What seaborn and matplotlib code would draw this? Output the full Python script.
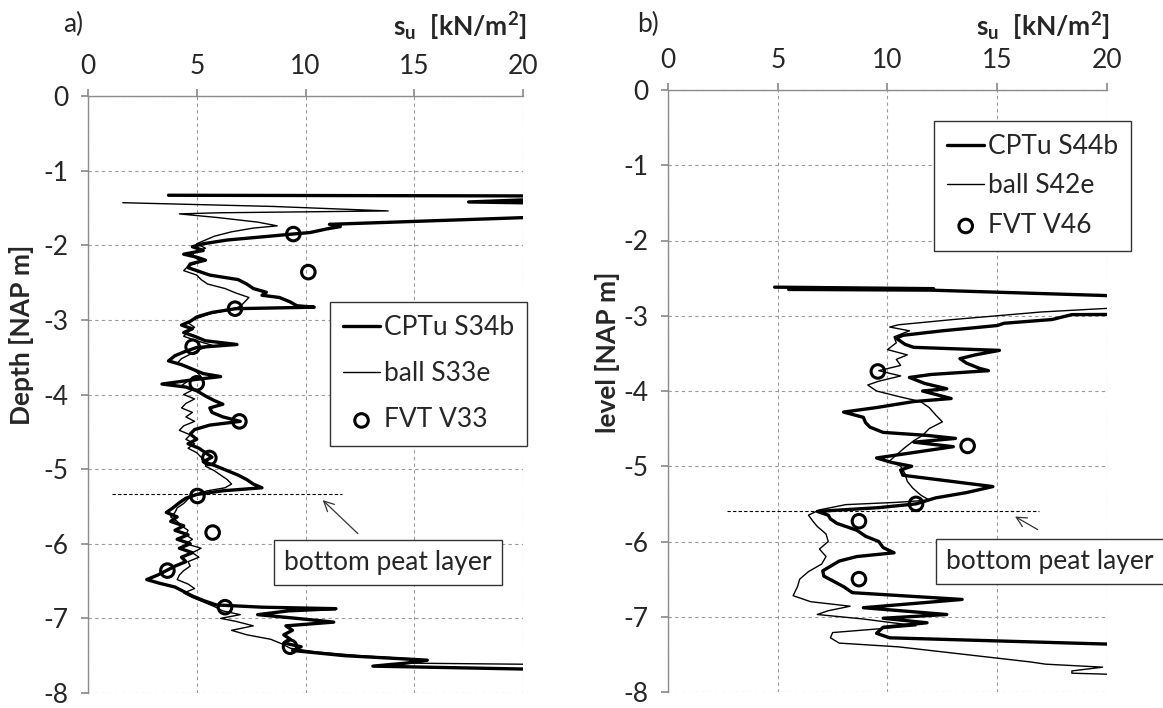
import matplotlib
matplotlib.use("Agg")
import matplotlib.pyplot as plt
import seaborn as sns

# ---------------- data: panel a ----------------
a_cptu_depth = [-1.33, -1.34, -1.37, -1.42, -1.44, -1.61, -1.63, -1.72, -1.75, -1.78, -1.83, -1.85, -1.88,
                -1.93, -1.98, -2.02, -2.07, -2.12, -2.16, -2.20, -2.25, -2.30, -2.34, -2.40, -2.46, -2.52,
                -2.58, -2.63, -2.67, -2.70, -2.76, -2.81, -2.83, -2.85, -2.90, -2.96, -3.02, -3.07, -3.12,
                -3.17, -3.22, -3.28, -3.33, -3.37, -3.42, -3.48, -3.55, -3.60, -3.66, -3.72, -3.76, -3.80,
                -3.86, -3.90, -3.95, -4.02, -4.08, -4.13, -4.18, -4.24, -4.30, -4.36, -4.41, -4.47, -4.53,
                -4.60, -4.66, -4.72, -4.78, -4.84, -4.90, -4.96, -5.02, -5.08, -5.14, -5.20, -5.25, -5.29,
                -5.34, -5.39, -5.45, -5.52, -5.58, -5.64, -5.70, -5.76, -5.82, -5.88, -5.94, -6.00, -6.06,
                -6.12, -6.18, -6.24, -6.30, -6.36, -6.42, -6.48, -6.53, -6.58, -6.64, -6.70, -6.76, -6.82,
                -6.85, -6.87, -6.90, -6.95, -7.00, -7.05, -7.10, -7.16, -7.22, -7.28, -7.33, -7.38, -7.43,
                -7.50, -7.56, -7.60, -7.64, -7.69]
a_cptu_su = [3.7, 22.0, 22.0, 17.5, 22.0, 22.0, 20.0, 11.1, 11.6, 11.0, 10.2, 9.4, 8.3,
             6.4, 5.3, 4.8, 5.3, 4.4, 5.0, 5.4, 4.7, 4.6, 5.0, 5.6, 6.9, 7.3,
             7.6, 8.2, 8.0, 8.8, 9.3, 9.6, 10.4, 6.8, 5.7, 5.0, 4.7, 4.3, 4.8,
             4.4, 4.9, 5.4, 6.85, 5.0, 4.5, 4.0, 3.7, 4.3, 4.8, 5.3, 6.1, 4.9,
             3.4, 4.5, 5.0, 5.4, 5.8, 6.2, 5.6, 5.7, 6.2, 7.0, 5.6, 4.9, 4.7,
             5.0, 4.6, 5.1, 5.4, 5.7, 5.3, 5.9, 6.4, 6.9, 7.3, 7.6, 8.0, 6.2,
             5.0, 4.5, 4.2, 3.9, 3.6, 4.1, 3.8, 4.4, 4.0, 4.6, 4.1, 4.7, 4.2,
             4.8, 4.3, 4.5, 4.0, 3.6, 3.2, 2.7, 3.3, 4.0, 4.4, 4.8, 5.3, 5.9,
             8.0, 11.4, 9.2, 7.8, 9.6, 11.3, 9.1, 9.4, 9.0, 9.3, 9.0, 9.8, 9.4,
             11.8, 15.6, 14.6, 13.1, 22.0]

a_ball_depth = [-1.43, -1.48, -1.54, -1.565, -1.58, -1.63, -1.69, -1.74, -1.77, -1.82, -1.88, -1.93, -1.98,
                -2.04, -2.10, -2.16, -2.22, -2.28, -2.34, -2.40, -2.46, -2.52, -2.58, -2.64, -2.70, -2.76,
                -2.82, -2.86, -2.92, -2.98, -3.04, -3.10, -3.16, -3.22, -3.28, -3.34, -3.40, -3.46, -3.52,
                -3.58, -3.64, -3.70, -3.76, -3.82, -3.88, -3.94, -4.00, -4.06, -4.12, -4.18, -4.24, -4.30,
                -4.36, -4.42, -4.48, -4.54, -4.60, -4.66, -4.72, -4.78, -4.84, -4.90, -4.96, -5.02, -5.08,
                -5.14, -5.20, -5.25, -5.29, -5.34, -5.40, -5.46, -5.52, -5.58, -5.64, -5.70, -5.76, -5.82,
                -5.88, -5.94, -6.00, -6.06, -6.12, -6.18, -6.24, -6.30, -6.36, -6.42, -6.48, -6.54, -6.60,
                -6.66, -6.72, -6.78, -6.84, -6.90, -6.95, -7.00, -7.04, -7.10, -7.16, -7.22, -7.28, -7.34,
                -7.40, -7.45, -7.50, -7.54, -7.57, -7.60, -7.62]
a_ball_su = [1.6, 8.5, 13.8, 6.0, 4.2, 6.0, 7.8, 8.7, 7.6, 6.6, 5.8, 5.4, 5.0,
             5.4, 4.8, 4.9, 5.2, 4.6, 4.4, 5.0, 5.2, 5.5, 6.3, 6.8, 7.4, 7.2,
             7.0, 6.6, 5.6, 5.0, 4.6, 4.9, 4.6, 4.4, 5.0, 5.7, 5.1, 4.7, 4.3,
             4.1, 4.7, 5.0, 5.2, 4.6, 4.3, 4.8, 4.4, 4.9, 4.5, 4.3, 4.8, 4.5,
             4.9, 4.4, 4.2, 4.7, 4.5, 4.9, 4.6, 5.0, 5.2, 5.5, 5.4, 5.8, 6.1,
             6.4, 6.6, 6.3, 5.5, 4.9, 4.6, 4.4, 4.1, 4.0, 3.8, 4.1, 4.3, 4.6,
             4.5, 4.8, 4.5, 5.2, 4.8, 5.1, 4.6, 4.7, 4.4, 4.2, 4.1, 4.6, 4.9,
             4.4, 4.8, 5.3, 5.8, 6.2, 7.0, 6.1, 6.8, 7.6, 6.6, 7.3, 8.4, 8.9,
             9.3, 10.5, 12.5, 14.8, 15.6, 14.8, 22.0]

a_fvt_depth = [-1.85, -2.36, -2.85, -3.36, -3.85, -4.36, -4.85, -5.36, -5.85, -6.36, -6.85, -7.38]
a_fvt_su = [9.44, 10.13, 6.76, 4.81, 5.0, 6.96, 5.58, 5.03, 5.73, 3.65, 6.3, 9.29]

# ---------------- data: panel b ----------------
b_cptu_depth = [-2.62, -2.64, -2.645, -2.65, -2.66, -2.75, -2.98, -2.985, -3.05, -3.10, -3.13, -3.20, -3.26,
                -3.30, -3.38, -3.42, -3.46, -3.52, -3.57, -3.63, -3.70, -3.73, -3.78, -3.82, -3.90, -3.97,
                -4.00, -4.10, -4.14, -4.22, -4.28, -4.35, -4.42, -4.48, -4.55, -4.59, -4.63, -4.68, -4.74,
                -4.80, -4.89, -4.95, -5.00, -5.05, -5.12, -5.16, -5.27, -5.35, -5.42, -5.50, -5.55, -5.60,
                -5.65, -5.70, -5.76, -5.85, -5.93, -6.00, -6.08, -6.15, -6.20, -6.26, -6.39, -6.46, -6.60,
                -6.68, -6.77, -6.88, -6.97, -7.02, -7.08, -7.14, -7.22, -7.28, -7.38]
b_cptu_su = [4.86, 12.1, 8.0, 5.5, 12.0, 22.0, 22.0, 18.4, 17.5, 15.3, 15.0, 12.5, 10.7,
             10.4, 10.8, 11.2, 15.1, 14.0, 13.3, 13.6, 14.2, 14.6, 12.0, 11.0, 11.7, 12.7,
             11.6, 12.9, 11.2, 9.5, 8.0, 8.9, 9.0, 9.2, 9.8, 11.8, 13.1, 11.2, 13.0,
             11.6, 9.5, 10.2, 11.1, 10.6, 10.7, 11.8, 14.8, 13.6, 12.2, 11.3, 9.6, 6.8,
             7.3, 7.4, 7.7, 8.6, 9.0, 9.6, 9.8, 10.3, 8.6, 7.8, 7.05, 7.1, 8.0,
             8.4, 13.4, 8.9, 12.7, 9.8, 11.8, 9.8, 9.5, 10.1, 22.0]

b_ball_depth = [-2.87, -2.95, -3.05, -3.12, -3.15, -3.20, -3.28, -3.36, -3.45, -3.52, -3.58, -3.66, -3.73,
                -3.80, -3.87, -3.92, -4.00, -4.08, -4.14, -4.22, -4.32, -4.41, -4.50, -4.59, -4.66, -4.75,
                -4.85, -4.93, -5.00, -5.10, -5.20, -5.29, -5.38, -5.45, -5.48, -5.51, -5.58, -5.65, -5.73,
                -5.80, -5.90, -6.00, -6.10, -6.20, -6.30, -6.40, -6.50, -6.60, -6.72, -6.80, -6.86, -6.92,
                -6.97, -7.03, -7.12, -7.17, -7.21, -7.28, -7.35, -7.40, -7.50, -7.60, -7.63, -7.67, -7.72,
                -7.75, -7.78]
b_ball_su = [22.0, 17.0, 13.0, 10.5, 10.1, 11.0, 10.3, 10.4, 10.0, 10.9, 10.4, 10.6, 9.6,
             10.6, 9.6, 9.1, 9.5, 10.6, 11.5, 11.9, 12.2, 12.5, 11.9, 11.6, 11.2, 10.8,
             10.4, 10.1, 10.6, 10.8, 10.9, 11.15, 11.5, 11.9, 10.4, 8.1, 6.9, 6.4, 6.6,
             6.8, 7.2, 7.3, 6.9, 7.2, 7.0, 6.4, 6.0, 5.9, 5.7, 6.5, 8.3, 7.3,
             6.8, 8.9, 11.3, 9.2, 7.5, 7.4, 7.8, 10.5, 13.5, 16.5, 17.2, 19.8, 18.4,
             18.4, 22.0]

b_fvt_depth = [-3.74, -4.73, -5.50, -5.73, -6.50]
b_fvt_su = [9.56, 13.65, 11.3, 8.7, 8.7]

# labels / annotations
x_ticks = [0, 5, 10, 15, 20]
y_ticks = [0, -1, -2, -3, -4, -5, -6, -7, -8]
labels_a = ["CPTu S34b", "ball S33e", "FVT V33"]
labels_b = ["CPTu S44b", "ball S42e", "FVT V46"]
peat_a = {"depth": -5.34, "x": [1.1, 11.7], "text_xy": (13.8, -6.25), "tail": (12.5, -5.89), "head": (10.7, -5.39)}
peat_b = {"depth": -5.60, "x": [2.7, 16.9], "text_xy": (17.4, -6.27), "tail": (16.95, -5.86), "head": (15.7, -5.65)}

# ---------------- style ----------------
sns.set_theme(style="white")
plt.rcParams['font.family'] = ['Lato', 'DejaVu Sans']
plt.rcParams['mathtext.fontset'] = 'custom'
plt.rcParams['mathtext.rm'] = 'Lato'
plt.rcParams['mathtext.bf'] = 'Lato:bold'
plt.rcParams['mathtext.it'] = 'Lato:italic'
plt.rcParams['axes.unicode_minus'] = False

FS = 19
W, H = 1163, 708
fig = plt.figure(figsize=(W / 100, H / 100), dpi=100)
axA = fig.add_axes([88 / W, 15 / H, 435 / W, 597 / H])
axB = fig.add_axes([668 / W, 16 / H, 439 / W, 602 / H])


def draw(ax, cd, cs, bd, bs, fd, fs, labels, peat, leg_anchor, leg_spacing):
    sns.lineplot(x=cs, y=cd, sort=False, estimator=None, color='black', lw=2.4, ax=ax, label=labels[0])
    sns.lineplot(x=bs, y=bd, sort=False, estimator=None, color='black', lw=1.0, ax=ax, label=labels[1])
    sns.scatterplot(x=fs, y=fd, marker='o', s=95, facecolor='none', edgecolor='black',
                    linewidth=2.2, ax=ax, label=labels[2], zorder=5)
    ax.set_xlim(0, 20)
    ax.set_ylim(-8, 0)
    ax.set_xticks(x_ticks)
    ax.set_yticks(y_ticks)
    ax.xaxis.tick_top()
    ax.grid(True, ls=(0, (3, 3)), color='#9a9a9a', lw=0.8)
    for s in ['right', 'bottom']:
        ax.spines[s].set_visible(False)
    for s in ['top', 'left']:
        ax.spines[s].set_color('#8c8c8c')
        ax.spines[s].set_linewidth(1.0)
    ax.tick_params(axis='x', top=True, bottom=False, length=5, color='#8c8c8c', labelsize=FS, pad=7)
    ax.tick_params(axis='y', left=True, length=5, color='#8c8c8c', labelsize=FS, pad=9)
    ax.set_xlabel('')
    ax.set_ylabel('')
    # peat layer marker
    ax.plot(peat["x"], [peat["depth"], peat["depth"]], color='black', lw=0.8, dashes=(3, 2))
    ax.annotate('', xy=peat["head"], xytext=peat["tail"],
                arrowprops=dict(arrowstyle='->', color='#333333', lw=0.9, mutation_scale=18))
    ax.text(peat["text_xy"][0], peat["text_xy"][1], 'bottom peat layer', fontsize=FS,
            ha='center', va='center', zorder=6,
            bbox=dict(boxstyle='square,pad=0.38', fc='white', ec='#333333', lw=1.0))
    leg = ax.legend(loc='upper left', bbox_to_anchor=leg_anchor, frameon=True, fancybox=False,
                    edgecolor='#333333', framealpha=1, fontsize=FS, handlelength=1.4,
                    handletextpad=0.15, labelspacing=leg_spacing, borderpad=0.5, borderaxespad=0)
    leg.get_frame().set_linewidth(1.0)


draw(axA, a_cptu_depth, a_cptu_su, a_ball_depth, a_ball_su, a_fvt_depth, a_fvt_su,
     labels_a, peat_a, (0.556, 0.655), 0.8)
draw(axB, b_cptu_depth, b_cptu_su, b_ball_depth, b_ball_su, b_fvt_depth, b_fvt_su,
     labels_b, peat_b, (0.606, 0.949), 0.55)

title = r"$\mathbf{s_u}\ \ \mathbf{[kN/m^2]}$"
fig.text(527 / W, 1 - 27 / H, title, fontsize=FS, ha='right', va='center')
fig.text(1110 / W, 1 - 27 / H, title, fontsize=FS, ha='right', va='center')
fig.text(73 / W, 1 - 24 / H, 'a)', fontsize=FS, ha='center', va='center')
fig.text(648 / W, 1 - 24 / H, 'b)', fontsize=FS, ha='center', va='center')
fig.text(22 / W, 1 - 335 / H, 'Depth [NAP m]', fontsize=FS, fontweight='bold',
         rotation=90, ha='center', va='center')
fig.text(607 / W, 1 - 352 / H, 'level [NAP m]', fontsize=FS, fontweight='bold',
         rotation=90, ha='center', va='center')

fig.savefig('out.png', dpi=100)
